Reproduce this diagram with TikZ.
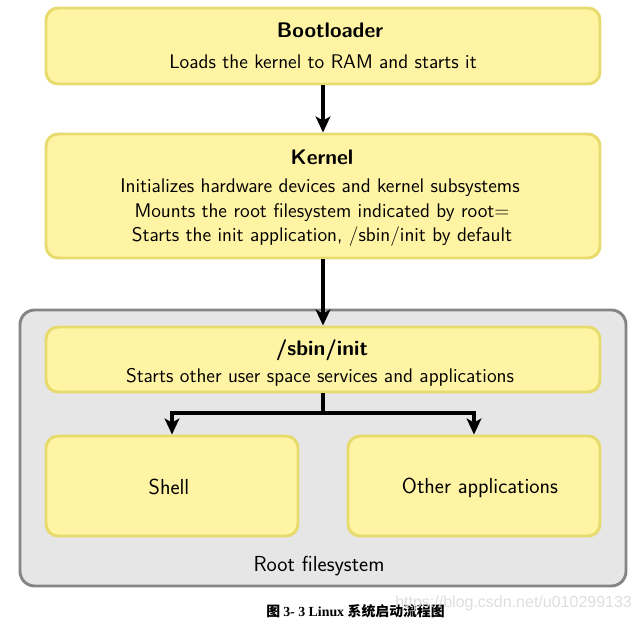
\documentclass[tikz,border=0pt]{standalone}
\usepackage{fontspec}
\newfontfamily\cjk{Noto Sans CJK SC}
\newfontfamily\capserif{Liberation Serif}
\newfontfamily\wmfont{Liberation Sans}
\usetikzlibrary{arrows.meta}
\definecolor{boxfill}{HTML}{FFF4A3}
\definecolor{boxline}{HTML}{E6DB6C}
\definecolor{rootfill}{HTML}{E6E6E6}
\definecolor{rootline}{HTML}{858585}
\tikzset{
  ybox/.style={draw=boxline, fill=boxfill, line width=2.2pt, rounded corners=9pt, inner sep=0pt},
  rbox/.style={draw=rootline, fill=rootfill, line width=2.2pt, rounded corners=11pt, inner sep=0pt},
  ttl/.style={font=\sffamily\bfseries\fontsize{15.8}{19}\selectfont, inner sep=0pt},
  txt/.style={font=\sffamily\fontsize{14.8}{18}\selectfont, inner sep=0pt},
  bigtxt/.style={font=\sffamily\fontsize{16.3}{19}\selectfont, inner sep=0pt},
  conn/.style={line width=2.6pt, -{Stealth[length=12pt,width=11pt,inset=3pt]}},
  plain/.style={line width=2.6pt}
}
\begin{document}
\begin{tikzpicture}[x=0.75pt,y=-0.75pt]
\useasboundingbox (0,0) rectangle (639,622);
% boxes
\node[ybox, minimum width=415.5pt, minimum height=57pt] (boot) at (323,46) {};
\node[ybox, minimum width=415.5pt, minimum height=93pt] (kernel) at (323,196) {};
\node[rbox, minimum width=454.5pt, minimum height=207pt] (root) at (323,448) {};
\node[ybox, minimum width=415.5pt, minimum height=48.75pt] (init) at (323,359.5) {};
\node[ybox, minimum width=189pt, minimum height=75pt] (shell) at (172,486) {};
\node[ybox, minimum width=189pt, minimum height=75pt] (other) at (474,486) {};
% texts
\node[ttl] (t1) at (330,30) {Bootloader};
\node[txt] (d1) at (323,62) {Loads the kernel to RAM and starts it};
\node[ttl] (t2) at (322,157) {Kernel};
\node[txt] (d2a) at (320,188) {Initializes hardware devices and kernel subsystems};
\node[txt] (d2b) at (322,213) {Mounts the root filesystem indicated by root=};
\node[txt] (d2c) at (322,237) {Starts the init application, /sbin/init by default};
\node[ttl] (t3) at (322,350) {/sbin/init};
\node[txt] (d3) at (320,377) {Starts other user space services and applications};
\node[bigtxt] (s1) at (169,487) {Shell};
\node[bigtxt] (s2) at (480,488) {Other applications};
\node[bigtxt] (rl) at (319,566) {Root filesystem};
% connectors
\draw[conn] (boot.south) -- (kernel.north);
\draw[conn] (kernel.south) -- (init.north);
\coordinate (br) at (323,413);
\draw[plain] (init.south) -- (br);
\draw[conn] (br) -| (shell.north);
\draw[conn] (br) -| (other.north);
% caption
\node[inner sep=0pt, anchor=west] (cap) at (266,611) {\fontsize{10.4}{12}\selectfont\cjk\bfseries 图 \capserif\bfseries 3- 3 Linux \cjk\bfseries 系统启动流程图};
\node[inner sep=0pt, anchor=west, text=black!13] (wm) at (395,603) {\wmfont\fontsize{12}{14}\selectfont https://blog.csdn.net/u010299133};
\end{tikzpicture}
\end{document}
